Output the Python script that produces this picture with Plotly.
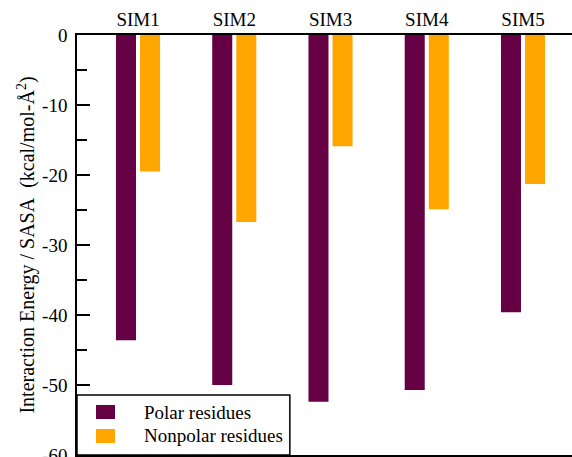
import plotly.graph_objects as go

# Simulation runs and per-run interaction energy normalised by SASA
simulations = ["SIM1", "SIM2", "SIM3", "SIM4", "SIM5"]
polar_values = [-43.6, -50.0, -52.4, -50.7, -39.6]
nonpolar_values = [-19.5, -26.7, -15.9, -24.9, -21.3]

y_ticks = [0, -10, -20, -30, -40, -50, -60]
y_tick_labels = ["0", "-10", "-20", "-30", "-40", "-50", "-60"]

POLAR_COLOR = "#660044"
NONPOLAR_COLOR = "#FFA500"
FONT = "Liberation Serif"

x_pos = list(range(1, len(simulations) + 1))
bar_w = 0.208

fig = go.Figure()
fig.add_trace(go.Bar(
    x=x_pos, y=polar_values, name="Polar residues",
    width=bar_w, offset=-0.229,
    marker=dict(color=POLAR_COLOR, line=dict(width=0)),
    showlegend=False,
))
fig.add_trace(go.Bar(
    x=x_pos, y=nonpolar_values, name="Nonpolar residues",
    width=bar_w, offset=0.021,
    marker=dict(color=NONPOLAR_COLOR, line=dict(width=0)),
    showlegend=False,
))

# Boxed legend in the lower-left corner of the plot
legend_items = [("Polar residues", POLAR_COLOR), ("Nonpolar residues", NONPOLAR_COLOR)]
shapes = [dict(type="rect", xref="paper", yref="paper",
               x0=0.0, x1=0.430, y0=0.0, y1=0.143,
               line=dict(color="black", width=1.5), fillcolor="white", layer="above")]
annotations = []
row_y = [(0.0857, 0.119), (0.0286, 0.0619)]
for (label, color), (y0, y1) in zip(legend_items, row_y):
    shapes.append(dict(type="rect", xref="paper", yref="paper",
                       x0=0.0384, x1=0.0768, y0=y0, y1=y1,
                       line=dict(width=0), fillcolor=color, layer="above"))
    annotations.append(dict(xref="paper", yref="paper", x=0.131, y=(y0 + y1) / 2,
                            text=label, showarrow=False, xanchor="left", yanchor="middle",
                            font=dict(family=FONT, size=19, color="black")))

fig.update_layout(
    width=572, height=457,
    margin=dict(l=77, r=0, t=35, b=2),
    paper_bgcolor="white", plot_bgcolor="white",
    barmode="overlay",
    font=dict(family=FONT, size=19, color="black"),
    shapes=shapes, annotations=annotations,
    xaxis=dict(
        side="top", range=[0.366, 5.509],
        tickmode="array", tickvals=x_pos, ticktext=simulations,
        ticks="", showgrid=False, zeroline=False,
        showline=True, mirror=True, linecolor="black", linewidth=1.5,
        tickfont=dict(family=FONT, size=19), automargin=False,
    ),
    yaxis=dict(
        range=[-60, 0],
        tickmode="array", tickvals=y_ticks, ticktext=y_tick_labels,
        ticks="inside", ticklen=13, tickwidth=1.5, tickcolor="black",
        minor=dict(ticks="inside", ticklen=10, tickwidth=1.5, tickcolor="black",
                   dtick=5, showgrid=False),
        showgrid=False, zeroline=False,
        showline=True, linecolor="black", linewidth=1.5,
        tickfont=dict(family=FONT, size=19), automargin=False,
        ticklabeloverflow="allow", ticklabelstandoff=4,
        title=dict(text="Interaction Energy / SASA\u00a0\u00a0(kcal/mol-\u00c5<sup>2</sup>)",
                   font=dict(family=FONT, size=20), standoff=2),
    ),
)

fig.write_html("out.html")
